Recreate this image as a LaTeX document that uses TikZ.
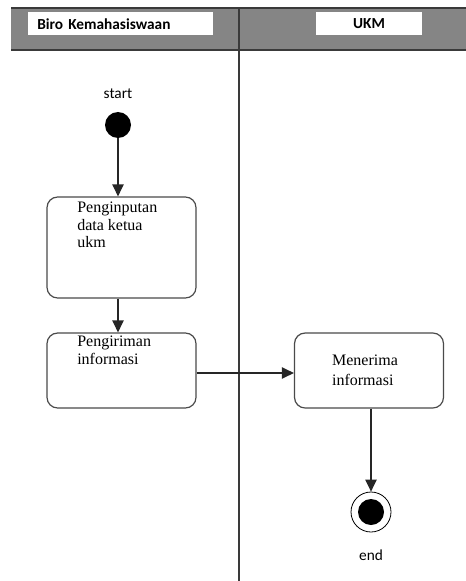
\documentclass[tikz,border=0pt]{standalone}
\usepackage{fontspec}
\setmainfont{Liberation Serif}
\newfontfamily\calibrilike{Carlito}
\usepackage{tikz}
\usetikzlibrary{positioning,arrows.meta}
\definecolor{headgray}{HTML}{858585}
\definecolor{rulegray}{HTML}{3A3A3A}
\definecolor{boxgray}{HTML}{4A4A4A}

\begin{document}
\begin{tikzpicture}[
    x=0.75pt, y=-0.75pt,
    >={Triangle[width=8.5pt,length=9pt]},
    lanehead/.style={fill=white, minimum height=17.25pt, inner ysep=0pt,
                     font=\calibrilike\fontsize{11.5}{13}\selectfont\bfseries},
    act/.style={draw=boxgray, line width=0.9pt, rounded corners=8pt,
                minimum width=111.75pt},
    acttext/.style={align=left, inner sep=0pt,
                    font=\fontsize{12}{13}\selectfont},
    initial/.style={circle, fill=black, minimum size=19.5pt, inner sep=0pt},
    final/.style={circle, draw=black, line width=0.6pt, minimum size=30pt,
                  inner sep=0pt},
    caption/.style={font=\calibrilike\fontsize{11.5}{13}\selectfont},
    arrow/.style={->, line width=0.9pt, draw=black!85},
]
\useasboundingbox (0,0) rectangle (466,581);

% swimlane header
\fill[headgray] (11,8) rectangle (466,50);
\draw[rulegray, line width=1pt] (11,8) -- (466,8);
\draw[rulegray, line width=1pt] (11,50) -- (466,50);
\draw[rulegray, line width=1pt] (239,8) -- (239,581);
\node[lanehead, anchor=west, text width=125pt, align=left, inner xsep=6.75pt]
    (biro) at (28,24) {Biro Kemahasiswaan};
\node[lanehead, minimum width=79.5pt] (ukm) at (369,23.5) {UKM};

% Biro Kemahasiswaan lane
\node[caption] (startlbl) at (118,94) {start};
\node[initial] (start) at (118,125) {};
\node[act, minimum height=75.75pt] (input) at (121.5,247.5) {};
\node[acttext, anchor=north west] (inputtxt) at (77,202)
    {Penginputan\\data ketua\\ukm};
\node[act, minimum height=56.25pt] (kirim) at (121.5,370.5) {};
\node[acttext, anchor=north west] (kirimtxt) at (77,336)
    {Pengiriman\\informasi};

% UKM lane
\node[act, minimum height=56.25pt, acttext, inner sep=0pt,
      font=\fontsize{12}{15}\selectfont] (terima) at (369,370.5)
    {\hspace*{-6pt}Menerima\\\hspace*{-6pt}informasi};
\node[final] (end) at (371,512) {};
\node[initial] (endin) at (end) {};
\node[caption] (endlbl) at (371,555) {end};

% transitions
\draw[arrow] (start) -- (start |- input.north);
\draw[arrow] (input.south -| start) -- (kirim.north -| start);
\draw[arrow] (kirim.east |- 0,373) -- (terima.west |- 0,373);
\draw[arrow] (terima.south -| end) -- (end.north);

\end{tikzpicture}
\end{document}
